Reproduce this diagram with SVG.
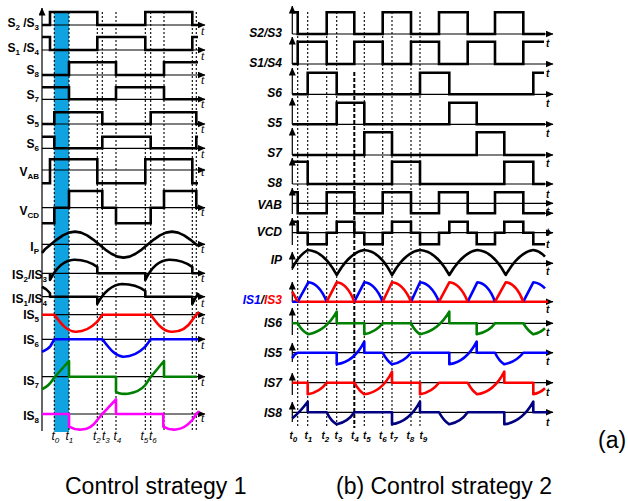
<svg xmlns="http://www.w3.org/2000/svg" width="628" height="501" viewBox="0 0 628 501">
<defs>
<marker id="ah" markerUnits="userSpaceOnUse" markerWidth="8" markerHeight="7" refX="7.5" refY="3.5" orient="auto"><path d="M0,0 L8,3.5 L0,7 z" fill="#000"/></marker>
</defs>
<style>
.ax{stroke:#000;stroke-width:1.2;fill:none;marker-end:url(#ah)}
.sig{stroke:#000;stroke-width:2.6;fill:none}
.cur{stroke-width:2.6;fill:none;stroke-linejoin:round}
.dot{stroke:#000;stroke-width:1.1;stroke-dasharray:2 2;fill:none}
.la{font-family:"Liberation Sans",Arial,sans-serif;font-weight:bold;font-size:12px;fill:#000}
.sub{font-size:8px}
.lb{font-family:"Liberation Sans",Arial,sans-serif;font-weight:bold;font-style:italic;font-size:12px;fill:#000}
.ta{font-family:"Liberation Serif","Times New Roman",serif;font-style:italic;font-size:12px;fill:#000}
.tb{font-family:"Liberation Sans",Arial,sans-serif;font-style:italic;font-weight:bold;font-size:10px;fill:#000}
.tl{font-family:"Liberation Sans",Arial,sans-serif;font-style:italic;font-size:12px;fill:#000}
.cap{font-family:"Liberation Sans",Arial,sans-serif;font-size:23px;fill:#000}
</style>
<rect width="628" height="501" fill="#fff"/>

<!-- ================= Panel (a) ================= -->
<g id="panel-a">
<rect id="band" x="54.3" y="12" width="14.7" height="420" fill="#0FA3E2"/>
<g id="a-dotted">
<line class="dot" x1="54.3" y1="12" x2="54.3" y2="432"/>
<line class="dot" x1="69" y1="12" x2="69" y2="432"/>
<line class="dot" x1="97.3" y1="12" x2="97.3" y2="432"/>
<line class="dot" x1="102.3" y1="12" x2="102.3" y2="432"/>
<line class="dot" x1="116" y1="12" x2="116" y2="432"/>
<line class="dot" x1="145.3" y1="12" x2="145.3" y2="432"/>
<line class="dot" x1="150.7" y1="12" x2="150.7" y2="432"/>
<line class="dot" x1="164" y1="12" x2="164" y2="432"/>
<line class="dot" x1="192.3" y1="12" x2="192.3" y2="432"/>
<line class="dot" x1="196.3" y1="12" x2="196.3" y2="432"/>
</g>
<g id="a-axes">
<line class="ax" x1="42" y1="431" x2="42" y2="8"/>
<line class="ax" x1="42" y1="25" x2="205" y2="25"/>
<line class="ax" x1="42" y1="50" x2="205" y2="50"/>
<line class="ax" x1="42" y1="75" x2="205" y2="75"/>
<line class="ax" x1="42" y1="99.3" x2="205" y2="99.3"/>
<line class="ax" x1="42" y1="124" x2="205" y2="124"/>
<line class="ax" x1="42" y1="148.3" x2="205" y2="148.3"/>
<line class="ax" x1="42" y1="170" x2="205" y2="170"/>
<line class="ax" x1="42" y1="207.7" x2="205" y2="207.7"/>
<line class="ax" x1="42" y1="244.3" x2="205" y2="244.3"/>
<line class="ax" x1="42" y1="273.3" x2="205" y2="273.3"/>
<line class="ax" x1="42" y1="296.7" x2="205" y2="296.7"/>
<line class="ax" x1="42" y1="314.7" x2="205" y2="314.7"/>
<line class="ax" x1="42" y1="339.3" x2="205" y2="339.3"/>
<line class="ax" x1="42" y1="376.7" x2="205" y2="376.7"/>
<line class="ax" x1="42" y1="414" x2="205" y2="414"/>
</g>
<g id="a-signals">
<path id="a-s23" class="sig" d="M42,25 H50 V12 H97.3 V25 H145.3 V12 H192.3 V25 H198"/>
<path id="a-s14" class="sig" d="M42,37 H50 V50 H97.3 V37 H145.3 V50 H192.3 V37 H198"/>
<path id="a-s8" class="sig" d="M42,75 H69 V62.3 H116 V75 H164 V62.3 H198"/>
<path id="a-s7" class="sig" d="M42,87.3 H69 V99.3 H116 V87.3 H164 V99.3 H198"/>
<path id="a-s5" class="sig" d="M42,124 H54.3 V112.3 H102.3 V124 H150.7 V112.3 H196.3 V124 H198"/>
<path id="a-s6" class="sig" d="M42,136.7 H54.3 V148.3 H102.3 V136.7 H150.7 V148.3 H196.3 V136.7 H198"/>
<path id="a-vab" class="sig" d="M42,183.3 H50 V159.3 H97.3 V183.3 H145.3 V159.3 H192.3 V183.3 H198"/>
<path id="a-vcd" class="sig" d="M42,223.3 H54.3 V207.7 H69 V191 H102.3 V207.7 H116 V223.3 H150.7 V207.7 H164 V191 H196.3 V207.7 H198"/>
<polyline id="a-ip" class="cur" stroke="#000" points="42,253 44.7,249.6 50.75,244.6 56.8,239.6 62.9,235.4 68.9,232.6 75,231.6 81.1,232.6 87.1,235.4 93.2,239.6 99.25,244.6 105.3,249.6 111.4,253.8 117.4,256.6 123.5,257.6 129.6,256.6 135.6,253.8 141.7,249.6 147.75,244.6 153.8,239.6 159.9,235.4 165.9,232.6 172,231.6 178.1,232.6 184.1,235.4 190.2,239.6 196.25,244.6 198,246.1"/>
<path id="a-is23" class="cur" stroke="#000" d="M50,273.3 V280 C57,266 65,260 74,259.7 C84,259.5 92,263 97.3,267 V273.3 H145.3 V280 C152,266 160,260 169,259.7 C179,259.5 187,263 192.3,267 V273.3 H198"/>
<path id="a-is14" class="cur" stroke="#000" d="M42,286.7 C45,288 48,290.5 50,293.3 V296.7 H97.3 V304 C103,293 112,284.5 122,284 C132,284 140,287 145.3,291 V296.7 H192.3 V304 C194,300 196,297 198.5,293"/>
<path id="a-is5" class="cur" stroke="#FF0000" d="M42,314.7 H54.3 C60,322 66,331 75,331.7 C85,332.3 92,327 97.3,321.7 L102.3,314.7 H150.7 C156,322 162,331 171,331.7 C181,332.3 188,327 192.3,320 L196.3,314.7 L199,312"/>
<path id="a-is6" class="cur" stroke="#0000FF" d="M42,351.7 C46,350 49,348 50.5,346 L54.3,339.3 H102.3 C108,346 114,356 123,356.7 C133,357 140,352 145.3,346.7 L150.7,339.3 H198"/>
<path id="a-is7" class="cur" stroke="#008000" d="M42,389.3 C47,387 51,383 54.3,377.5 L69,361 V376.7 H116 V391.7 C118,393.5 122,394.2 128,393.7 C136,392.5 142,389 145.3,385 L150.7,377 L164,361 V376.7 H196.7"/>
<path id="a-is8" class="cur" stroke="#FF00FF" d="M42,414 H69 V426.7 C73,429 77,430 82,429.5 C89,429 94,425 97.3,420 L102.3,414 L116,399.3 V414 H163.3 V426.7 C167,429 171,430 176,429.5 C183,429 188,425 192.3,420 L196.3,414 L199,411"/>
</g>
<g id="a-labels">
<text class="la" x="39" y="27" text-anchor="end">S<tspan class="sub" dy="3">2</tspan><tspan dy="-3"> /S</tspan><tspan class="sub" dy="3">3</tspan></text>
<text class="la" x="39" y="51.5" text-anchor="end">S<tspan class="sub" dy="3">1</tspan><tspan dy="-3"> /S</tspan><tspan class="sub" dy="3">4</tspan></text>
<text class="la" x="39" y="74" text-anchor="end">S<tspan class="sub" dy="3">8</tspan></text>
<text class="la" x="39" y="99" text-anchor="end">S<tspan class="sub" dy="3">7</tspan></text>
<text class="la" x="39" y="123.5" text-anchor="end">S<tspan class="sub" dy="3">5</tspan></text>
<text class="la" x="39" y="148" text-anchor="end">S<tspan class="sub" dy="3">6</tspan></text>
<text class="la" x="39" y="176" text-anchor="end">V<tspan class="sub" dy="3">AB</tspan></text>
<text class="la" x="39" y="215" text-anchor="end">V<tspan class="sub" dy="3">CD</tspan></text>
<text class="la" x="39" y="250.5" text-anchor="end">I<tspan class="sub" dy="3">P</tspan></text>
<text class="la" x="47" y="279" text-anchor="end">IS<tspan class="sub" dy="3">2</tspan><tspan dy="-3">/IS</tspan><tspan class="sub" dy="3">3</tspan></text>
<text class="la" x="47" y="302.5" text-anchor="end">IS<tspan class="sub" dy="3">1</tspan><tspan dy="-3">/IS</tspan><tspan class="sub" dy="3">4</tspan></text>
<text class="la" x="39" y="319" text-anchor="end">IS<tspan class="sub" dy="3">5</tspan></text>
<text class="la" x="39" y="344" text-anchor="end">IS<tspan class="sub" dy="3">6</tspan></text>
<text class="la" x="39" y="385" text-anchor="end">IS<tspan class="sub" dy="3">7</tspan></text>
<text class="la" x="39" y="420" text-anchor="end">IS<tspan class="sub" dy="3">8</tspan></text>
</g>
<g id="a-t">
<text class="ta" x="201" y="35">t</text>
<text class="ta" x="201" y="60">t</text>
<text class="ta" x="201" y="84">t</text>
<text class="ta" x="201" y="108">t</text>
<text class="ta" x="201" y="133">t</text>
<text class="ta" x="201" y="158">t</text>
<text class="ta" x="201" y="176">t</text>
<text class="ta" x="201" y="216">t</text>
<text class="ta" x="201" y="253">t</text>
<text class="ta" x="201" y="282">t</text>
<text class="ta" x="201" y="307">t</text>
<text class="ta" x="201" y="324">t</text>
<text class="ta" x="201" y="349">t</text>
<text class="ta" x="201" y="386">t</text>
<text class="ta" x="201" y="422">t</text>
</g>
<g id="a-times">
<text class="tl" x="51.5" y="440">t<tspan class="sub" dy="3">0</tspan></text>
<text class="tl" x="65.5" y="440">t<tspan class="sub" dy="3">1</tspan></text>
<text class="tl" x="93" y="440">t<tspan class="sub" dy="3">2</tspan></text>
<text class="tl" x="102" y="440">t<tspan class="sub" dy="3">3</tspan></text>
<text class="tl" x="113.5" y="440">t<tspan class="sub" dy="3">4</tspan></text>
<text class="tl" x="140.5" y="440">t<tspan class="sub" dy="3">5</tspan></text>
<text class="tl" x="149" y="440">t<tspan class="sub" dy="3">6</tspan></text>
</g>
</g>

<!-- ================= Panel (b) ================= -->
<g id="panel-b">
<g id="b-dotted">
<line class="dot" x1="297.7" y1="12" x2="297.7" y2="428"/>
<line class="dot" x1="307.7" y1="12" x2="307.7" y2="428"/>
<line class="dot" x1="326.7" y1="12" x2="326.7" y2="428"/>
<line class="dot" x1="336.7" y1="12" x2="336.7" y2="428"/>
<line stroke="#000" stroke-width="2" stroke-dasharray="4 2" x1="354.3" y1="72" x2="354.3" y2="428"/>
<line class="dot" x1="364.3" y1="12" x2="364.3" y2="428"/>
<line class="dot" x1="382.7" y1="12" x2="382.7" y2="428"/>
<line class="dot" x1="392" y1="12" x2="392" y2="428"/>
<line class="dot" x1="411" y1="12" x2="411" y2="428"/>
<line class="dot" x1="420" y1="12" x2="420" y2="428"/>
</g>
<g id="b-axes">
<line class="ax" x1="292.3" y1="34" x2="553" y2="34"/>
<line class="ax" x1="292.3" y1="64" x2="553" y2="64"/>
<line class="ax" x1="292.3" y1="94.3" x2="553" y2="94.3"/>
<line class="ax" x1="292.3" y1="124.3" x2="553" y2="124.3"/>
<line class="ax" x1="292.3" y1="155" x2="553" y2="155"/>
<line class="ax" x1="292.3" y1="184" x2="553" y2="184"/>
<line class="ax" x1="292.3" y1="203.3" x2="553" y2="203.3"/>
<line class="ax" x1="523" y1="213.3" x2="553" y2="213.3"/>
<line class="ax" x1="292.3" y1="232.7" x2="553" y2="232.7"/>
<line class="ax" x1="292.3" y1="263.3" x2="553" y2="263.3"/>
<line class="ax" x1="292.3" y1="301.7" x2="553" y2="301.7"/>
<line class="ax" x1="292.3" y1="323.3" x2="553" y2="323.3"/>
<line class="ax" x1="292.3" y1="352.7" x2="553" y2="352.7"/>
<line class="ax" x1="292.3" y1="382.7" x2="553" y2="382.7"/>
<line class="ax" x1="292.3" y1="412.3" x2="553" y2="412.3"/>
<line class="ax" x1="292.3" y1="34" x2="292.3" y2="6"/>
<line class="ax" x1="292.3" y1="64" x2="292.3" y2="37"/>
<line class="ax" x1="292.3" y1="94.3" x2="292.3" y2="68"/>
<line class="ax" x1="292.3" y1="124.3" x2="292.3" y2="98"/>
<line class="ax" x1="292.3" y1="155" x2="292.3" y2="128"/>
<line class="ax" x1="292.3" y1="184" x2="292.3" y2="158"/>
<line class="ax" x1="292.3" y1="214" x2="292.3" y2="188"/>
<line class="ax" x1="292.3" y1="245" x2="292.3" y2="218"/>
<line class="ax" x1="292.3" y1="270" x2="292.3" y2="252"/>
<line class="ax" x1="292.3" y1="302" x2="292.3" y2="282"/>
<line class="ax" x1="292.3" y1="335" x2="292.3" y2="308"/>
<line class="ax" x1="292.3" y1="362" x2="292.3" y2="343"/>
<line class="ax" x1="292.3" y1="395" x2="292.3" y2="373"/>
<line class="ax" x1="292.3" y1="422" x2="292.3" y2="402"/>
</g>
<g id="b-signals">
<path id="b-s23" class="sig" d="M292.3,12.3 H297.7 V34 H326.7 V12.3 H354.3 V34 H382.7 V12.3 H411 V34 H439 V12.3 H467.7 V34 H495 V12.3 H523.3 V34 H545"/>
<path id="b-s14" class="sig" d="M292.3,64 H297.7 V41.7 H326.7 V64 H354.3 V41.7 H382.7 V64 H411 V41.7 H439 V64 H467.7 V41.7 H495 V64 H523.3 V41.7 H544"/>
<path id="b-s6" class="sig" d="M292.3,94.3 H307.7 V72.7 H336.7 V94.3 H420 V72.7 H449.3 V94.3 H533.3 V72.7 H544"/>
<path id="b-s5" class="sig" d="M292.3,124.3 H336.7 V102.7 H364.3 V124.3 H449.3 V102.7 H476.7 V124.3 H545"/>
<path id="b-s7" class="sig" d="M292.3,155 H364.3 V132.3 H392 V155 H476.7 V132.3 H504.3 V155 H545"/>
<path id="b-s8" class="sig" d="M292.3,161.7 H307.7 V184 H392 V161.7 H420 V184 H504.3 V161.7 H533.3 V184 H545"/>
<path id="b-vab" class="sig" d="M292.3,192.3 H297.7 V213.3 H326.7 V192.3 H354.3 V213.3 H382.7 V192.3 H411 V213.3 H439 V192.3 H467.7 V213.3 H495 V192.3 H523.3 V213.3 H545"/>
<path id="b-vcd" class="sig" d="M292.3,221.7 H297.7 V232.7 H307.7 V244.3 H326.7 V232.7 H336.7 V221.7 H354.3 V232.7 H364.3 V244.3 H382.7 V232.7 H392 V221.7 H411 V232.7 H420 V244.3 H439 V232.7 H449.3 V221.7 H467.7 V232.7 H476.7 V244.3 H495 V232.7 H504.3 V221.7 H523.3 V232.7 H533.3 V244.3 H545"/>
<path id="b-ip" class="cur" stroke="#000" d="M292.3,268.3 Q298,256 307.7,250 Q324,251 336.7,275 Q350,252 364.3,250 Q380,251 392,275 Q405,252 420,250 Q436,251 449.3,275 Q463,252 477.3,250 Q493,251 505.7,275 Q519,252 533.3,250 Q540,251 545,256.7"/>
<path id="b-is13base" class="cur" stroke="#FF0000" d="M292.3,301.7 H548"/>
<path id="b-is1" class="cur" stroke="#0000FF" d="M292.3,301.7 H297.7 L308.3,282.3 Q319,283 326.7,301.7 M354.3,301.7 L364.3,282.3 Q375,283 382.7,301.7 M411,301.7 L420,282.3 Q431,283 439,301.7 M467.7,301.7 L477.3,282.3 Q488,283 495,301.7 M523.3,301.7 L533.3,282.3 Q540,283 545,288.3"/>
<path id="b-is3" class="cur" stroke="#FF0000" d="M292.3,291.7 L297.7,301.7 M326.7,301.7 L336.7,282.3 Q347,283 354.3,301.7 M382.7,301.7 L392,282.3 Q403,283 411,301.7 M439,301.7 L449.3,282.3 Q460,283 467.7,301.7 M495,301.7 L505.7,282.3 Q516,283 523.3,301.7"/>
<path id="b-is6" class="cur" stroke="#008000" d="M292.3,323.3 H297.7 Q302,331 308.3,334.3 Q326,331 336.7,311.7 V323.3 H364.3 V334.3 Q376,332 382.7,323.3 H411 Q415,331 420,334.3 Q438,331 449.3,311.7 V323.3 H476.7 V334.3 Q489,332 495,323.3 H523.3 Q528,331 533.3,334.3 Q540,333 545,328.3"/>
<path id="b-is5" class="cur" stroke="#0000FF" d="M292.3,358.3 Q294,354 297.7,352.7 H336.7 V364.3 Q354,362 364.3,341.7 V352.7 H382.7 Q387,361 392,364.3 Q404,362 411,352.7 H449.3 V364.3 Q466,362 476.7,341.7 V352.7 H495 Q499,361 504.3,364.3 Q516,362 523.3,352.7 H548"/>
<path id="b-is7" class="cur" stroke="#FF0000" d="M292.3,382.7 H307.7 V394.3 Q320,392 326.7,382.7 H354.3 Q359,391 364.3,394.3 Q382,392 392,371.7 V382.7 H420 V394.3 Q432,392 439,382.7 H467.7 Q472,391 477.3,394.3 Q494,392 504.3,371.7 V382.7 H533.3 V394.3 Q540,393 545,388.3"/>
<path id="b-is8" class="cur" stroke="#000080" d="M292.3,418.3 Q300,412 307.7,401.7 V412.3 H326.7 Q331,421 336.7,424.3 Q348,422 354.3,412.3 H392 V424.3 Q409,422 420,401.7 V412.3 H439 Q444,421 449.3,424.3 Q461,422 467.7,412.3 H504.3 V424.3 Q522,422 533.3,401.7 V412.3 H548"/>
</g>
<g id="b-labels">
<text class="lb" x="282" y="37" text-anchor="end">S2/S3</text>
<text class="lb" x="282" y="67" text-anchor="end">S1/S4</text>
<text class="lb" x="282" y="97" text-anchor="end">S6</text>
<text class="lb" x="282" y="127" text-anchor="end">S5</text>
<text class="lb" x="282" y="157" text-anchor="end">S7</text>
<text class="lb" x="282" y="187" text-anchor="end">S8</text>
<text class="lb" x="282" y="209" text-anchor="end">VAB</text>
<text class="lb" x="282" y="236" text-anchor="end">VCD</text>
<text class="lb" x="282" y="264" text-anchor="end">IP</text>
<text class="lb" x="282" y="304" text-anchor="end"><tspan fill="#0000FF">IS1</tspan>/<tspan fill="#FF0000">IS3</tspan></text>
<text class="lb" x="282" y="327" text-anchor="end">IS6</text>
<text class="lb" x="282" y="357" text-anchor="end">IS5</text>
<text class="lb" x="282" y="387" text-anchor="end">IS7</text>
<text class="lb" x="282" y="417" text-anchor="end">IS8</text>
</g>
<g id="b-t">
<text class="tb" x="546" y="47">t</text>
<text class="tb" x="546" y="77">t</text>
<text class="tb" x="546" y="107">t</text>
<text class="tb" x="546" y="137">t</text>
<text class="tb" x="546" y="167">t</text>
<text class="tb" x="546" y="198">t</text>
<text class="tb" x="546" y="215">t</text>
<text class="tb" x="546" y="236">t</text>
<text class="tb" x="546" y="248">t</text>
<text class="tb" x="546" y="275">t</text>
<text class="tb" x="546" y="313">t</text>
<text class="tb" x="546" y="336">t</text>
<text class="tb" x="546" y="365">t</text>
<text class="tb" x="546" y="396">t</text>
<text class="tb" x="546" y="426">t</text>
</g>
<g id="b-times">
<text class="tb" x="289.5" y="439">t<tspan class="sub" dy="3">0</tspan></text>
<text class="tb" x="304.5" y="439">t<tspan class="sub" dy="3">1</tspan></text>
<text class="tb" x="321.5" y="439">t<tspan class="sub" dy="3">2</tspan></text>
<text class="tb" x="334.5" y="439">t<tspan class="sub" dy="3">3</tspan></text>
<text class="tb" x="351" y="439">t<tspan class="sub" dy="3">4</tspan></text>
<text class="tb" x="363" y="439">t<tspan class="sub" dy="3">5</tspan></text>
<text class="tb" x="379" y="439">t<tspan class="sub" dy="3">6</tspan></text>
<text class="tb" x="390" y="439">t<tspan class="sub" dy="3">7</tspan></text>
<text class="tb" x="406.5" y="439">t<tspan class="sub" dy="3">8</tspan></text>
<text class="tb" x="419.5" y="439">t<tspan class="sub" dy="3">9</tspan></text>
</g>
</g>

<g id="captions">
<text class="cap" x="598" y="448">(a)</text>
<text class="cap" x="65" y="494">Control strategy 1</text>
<text class="cap" x="336" y="494">(b) Control strategy 2</text>
</g>
</svg>
